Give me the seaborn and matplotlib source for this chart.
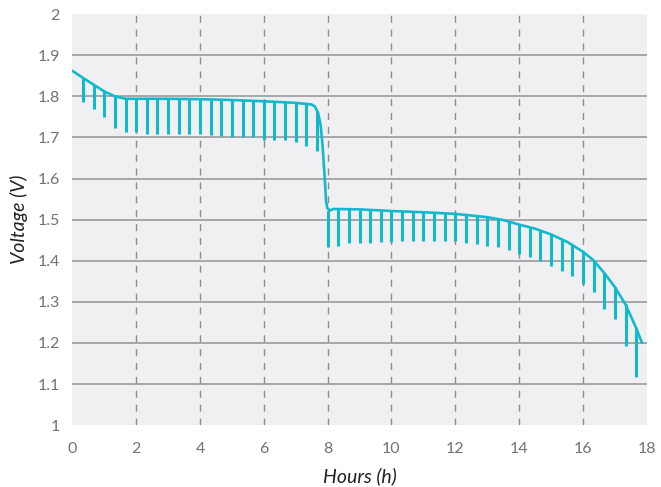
import numpy as np
import pandas as pd
import seaborn as sns
import matplotlib.pyplot as plt

# discharge curve (hours, volts)
curve_h = [0, 0.33, 0.67, 1.0, 1.33, 1.67, 2, 3, 4, 5, 6, 7, 7.4, 7.5, 7.6, 7.7,
           7.78, 7.84, 7.9, 7.95, 7.99, 8.07, 8.17, 9, 10, 11, 12, 13, 13.5, 14,
           14.5, 15, 15.5, 16, 16.33, 16.67, 17, 17.33, 17.67, 17.85]
curve_v = [1.862, 1.845, 1.828, 1.812, 1.800, 1.794, 1.794, 1.794, 1.793, 1.791,
           1.788, 1.784, 1.781, 1.780, 1.775, 1.760, 1.730, 1.680, 1.610, 1.545,
           1.528, 1.522, 1.526, 1.525, 1.521, 1.518, 1.514, 1.506, 1.499, 1.488,
           1.478, 1.464, 1.446, 1.422, 1.401, 1.370, 1.336, 1.294, 1.236, 1.200]

# load pulses every 20 minutes: top = voltage before pulse, bottom = voltage under load
pulse_h = [k / 3 for k in range(1, 54)]
pulse_top = [1.845, 1.828, 1.812, 1.800, 1.794, 1.794, 1.794, 1.794, 1.794, 1.793,
             1.793, 1.793, 1.792, 1.792, 1.791, 1.790, 1.789, 1.788, 1.787, 1.785,
             1.784, 1.781, 1.765,
             1.522, 1.526, 1.525, 1.524, 1.523, 1.522, 1.521, 1.520, 1.519, 1.519,
             1.518, 1.517, 1.514, 1.512, 1.509, 1.506, 1.502, 1.496, 1.488, 1.481,
             1.474, 1.464, 1.452, 1.439, 1.422, 1.401, 1.370, 1.336, 1.294, 1.236]
pulse_bottom = [1.785, 1.770, 1.749, 1.724, 1.712, 1.712, 1.709, 1.709, 1.709, 1.709,
                1.709, 1.709, 1.706, 1.704, 1.702, 1.700, 1.700, 1.694, 1.694, 1.693,
                1.688, 1.680, 1.666,
                1.433, 1.437, 1.443, 1.443, 1.443, 1.445, 1.446, 1.447, 1.447, 1.447,
                1.447, 1.447, 1.447, 1.443, 1.441, 1.437, 1.433, 1.426, 1.417, 1.408,
                1.400, 1.386, 1.374, 1.363, 1.344, 1.324, 1.283, 1.259, 1.192, 1.116]

x_ticks = [0, 2, 4, 6, 8, 10, 12, 14, 16, 18]
y_ticks = [1, 1.1, 1.2, 1.3, 1.4, 1.5, 1.6, 1.7, 1.8, 1.9, 2]
y_labels = ['1', '1.1', '1.2', '1.3', '1.4', '1.5', '1.6', '1.7', '1.8', '1.9', '2']

color = '#12b9cc'

sns.set_style('white', {'axes.facecolor': '#f0f0f3'})
plt.rcParams['font.family'] = ['Lato', 'DejaVu Sans']

fig = plt.figure(figsize=(6.61, 4.87), dpi=100)
ax = fig.add_axes([0.1095, 0.127, 0.869, 0.844])

df = pd.DataFrame({'Hours': curve_h, 'Voltage': curve_v})
ax.vlines(pulse_h, pulse_bottom, pulse_top, color=color, linewidth=2.2, zorder=3)
sns.lineplot(data=df, x='Hours', y='Voltage', ax=ax, color=color, linewidth=1.9,
             sort=False, zorder=4)

# grid: solid horizontal lines, dashed vertical lines (interior only)
for v in y_ticks[1:-1]:
    ax.axhline(v, color='#9a9a9c', linewidth=1.2, zorder=1)
for h in x_ticks[1:-1]:
    ax.axvline(h, color='#8c8c8c', linewidth=1.0, linestyle=(0, (5, 5)), zorder=1)

ax.set_xlim(0, 18)
ax.set_ylim(1, 2)
ax.set_xticks(x_ticks)
ax.set_yticks(y_ticks)
ax.set_yticklabels(y_labels)
ax.tick_params(axis='both', length=0, labelsize=11.5, colors='#727272')
ax.tick_params(axis='x', pad=12)
ax.tick_params(axis='y', pad=9)
for s in ax.spines.values():
    s.set_visible(False)

ax.set_xlabel('Hours (h)', fontsize=14, style='italic', color='#222222', labelpad=8)
ax.set_ylabel('Voltage (V)', fontsize=14, style='italic', color='#222222', labelpad=7)

fig.savefig('out.png', dpi=100)
